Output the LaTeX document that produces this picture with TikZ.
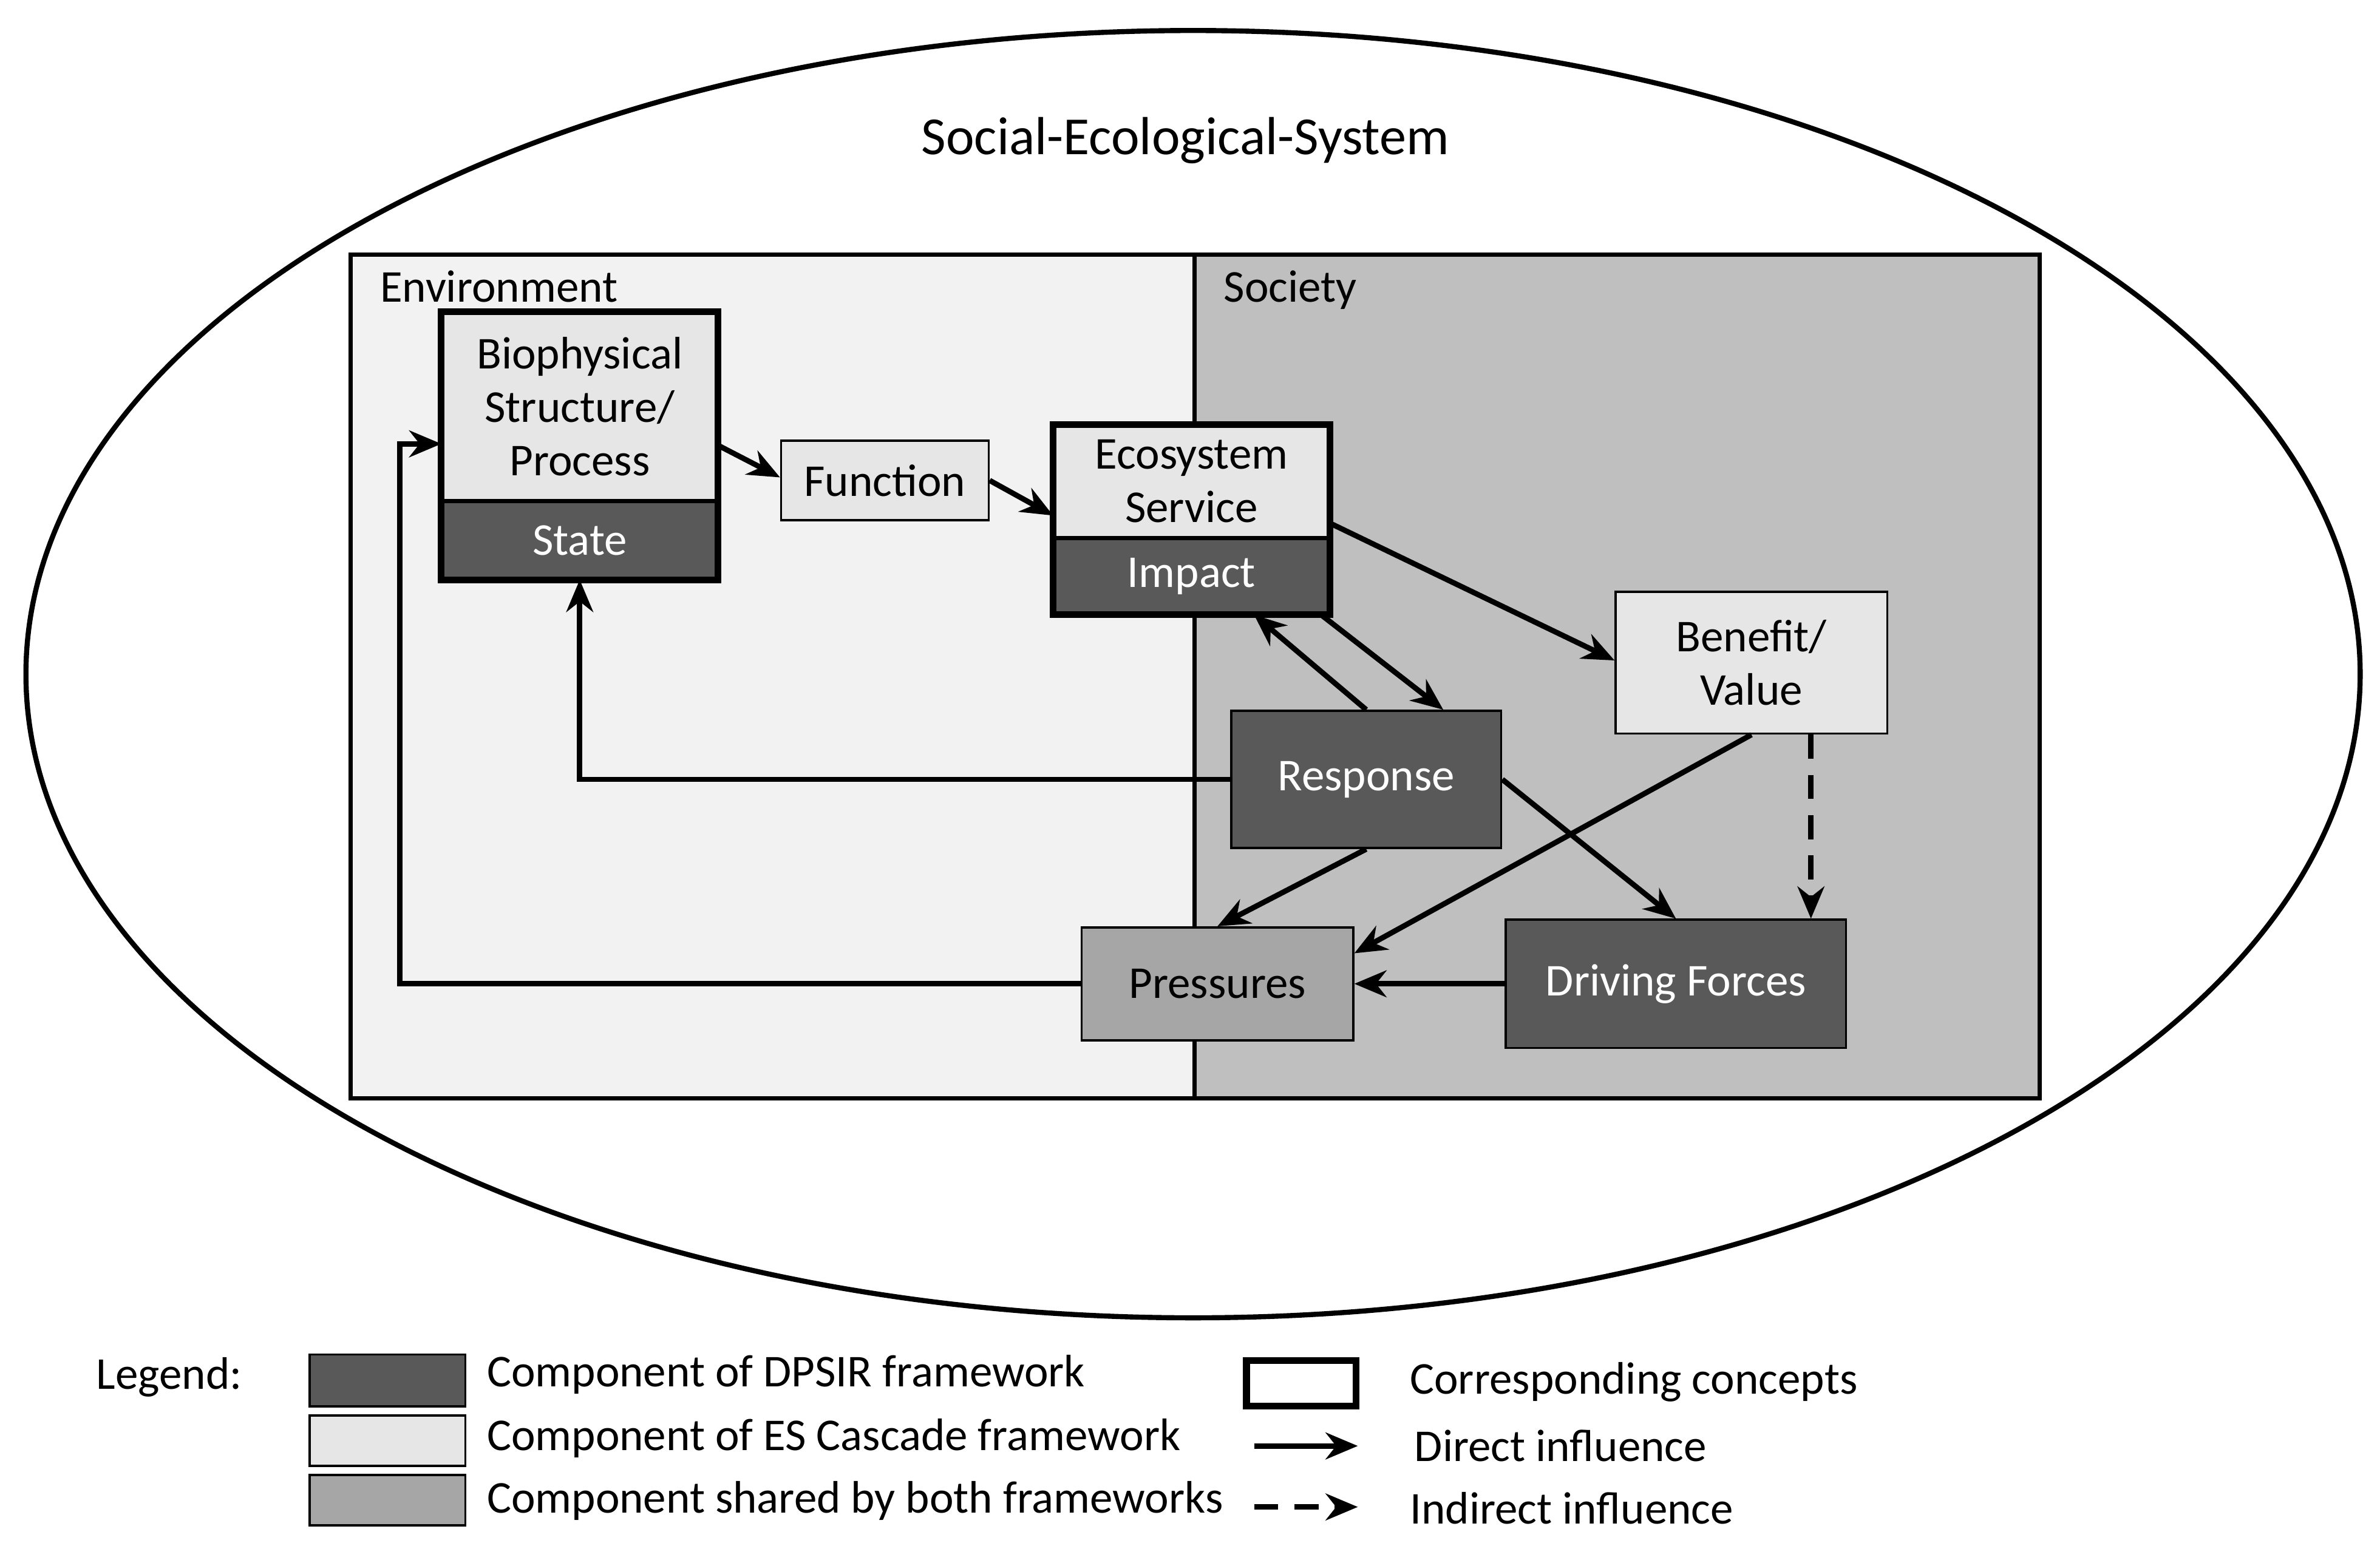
\documentclass[tikz,border=0pt]{standalone}
\usepackage{fontspec}
\setmainfont{Carlito}
\usetikzlibrary{positioning}
\usetikzlibrary{arrows.meta}
\definecolor{dpsir}{HTML}{595959}
\definecolor{cascade}{HTML}{E6E6E6}
\definecolor{shared}{HTML}{A6A6A6}
\definecolor{envfill}{HTML}{F2F2F2}
\definecolor{socfill}{HTML}{BFBFBF}
\begin{document}
\begin{tikzpicture}[x=0.02cm, y=-0.02cm, font=\fontsize{17}{20}\selectfont]
\tikzstyle{box} = [draw, line width=0.8pt, inner sep=0pt, align=center]
\tikzstyle{darkBox} = [box, fill=dpsir, text=white]
\tikzstyle{lightBox} = [box, fill=cascade]
\tikzstyle{midBox} = [box, fill=shared]
\tikzstyle{arr} = [line width=2pt, -{Stealth[length=12pt, width=10pt]}]
\tikzstyle{dashArr} = [arr, dash pattern=on 9pt off 6pt]
\tikzstyle{frameBox} = [line width=2.5pt]
\useasboundingbox (0,0) rectangle (1560,1013.6);
% system and its two parts
\draw[line width=1.9pt] (782,442) ellipse [x radius=765, y radius=422];
\node (ses) at (777,92) {\fontsize{20}{24}\selectfont Social-Ecological-System};
\fill[envfill] (230,167) rectangle (783,720);
\fill[socfill] (783,167) rectangle (1337,720);
\draw[line width=1.6pt] (230,167) rectangle (1337,720);
\draw[line width=1.6pt] (783,167) -- (783,720);
\node[anchor=west] (env) at (243,188) {Environment};
\node[anchor=west] (soc) at (796,190) {Society};
% components
\node[lightBox, minimum width=180*0.02cm, minimum height=123*0.02cm] (bio) at (380,266.5) {Biophysical\\Structure/\\Process};
\node[darkBox, minimum width=180*0.02cm, minimum height=50*0.02cm, below=0pt of bio] (state) {State};
\draw[frameBox] (bio.north west) rectangle (state.south east);
\node[lightBox, minimum width=136*0.02cm, minimum height=52*0.02cm] (func) at (580,315) {Function};
\node[lightBox, minimum width=180*0.02cm, minimum height=73*0.02cm] (es) at (781,315.5) {Ecosystem\\Service};
\node[darkBox, minimum width=180*0.02cm, minimum height=49*0.02cm, below=0pt of es] (impact) {Impact};
\draw[frameBox] (es.north west) rectangle (impact.south east);
\node[lightBox, minimum width=178*0.02cm, minimum height=93*0.02cm] (ben) at (1148,434.5) {Benefit/\\Value};
\node[darkBox, minimum width=177*0.02cm, minimum height=90*0.02cm] (resp) at (895.5,511) {Response};
\node[midBox, minimum width=178*0.02cm, minimum height=74*0.02cm] (press) at (798,645) {Pressures};
\node[darkBox, minimum width=223*0.02cm, minimum height=84*0.02cm] (drive) at (1098.5,645) {Driving Forces};
% influences
\draw[arr] (bio.east |- 0,292) -- (func.west |- 0,313);
\draw[arr] (func.east) -- (es.west |- 0,338);
\draw[arr] (es.east |- 0,343) -- (ben.west |- 0,433);
\draw[arr] (impact.south -| 866,0) -- (resp.north -| 946,0);
\draw[arr] (resp.north) -- (impact.south -| 822,0);
\draw[arr] (resp.west) -| (state.south);
\draw[arr] (resp.south) -- (press.north);
\draw[arr] (resp.east) -- (drive.north);
\draw[arr] (ben.south) -- (press.east |- 0,625);
\draw[dashArr] (ben.south -| 1187,0) -- (drive.north -| 1187,0);
\draw[arr] (drive.west) -- (press.east);
\draw[arr] (press.west) -| (262,291) -- (bio.west |- 0,291);
% legend
\node[anchor=west] (leg) at (57,903) {Legend:};
\node[darkBox, minimum width=102*0.02cm, minimum height=34*0.02cm] (legD) at (254,905) {};
\node[lightBox, minimum width=102*0.02cm, minimum height=33*0.02cm] (legC) at (254,944.5) {};
\node[midBox, minimum width=102*0.02cm, minimum height=33*0.02cm] (legS) at (254,983.5) {};
\node[anchor=west] (legDt) at (313,901) {Component of DPSIR framework};
\node[anchor=west] (legCt) at (313,943) {Component of ES Cascade framework};
\node[anchor=west] (legSt) at (313,984) {Component shared by both frameworks};
\node[draw, frameBox, minimum width=72*0.02cm, minimum height=30*0.02cm] (legF) at (853,907) {};
\coordinate (a1) at (822,948);
\coordinate (a2) at (890,948);
\coordinate (b1) at (822,988);
\coordinate (b2) at (890,988);
\draw[arr] (a1) -- (a2);
\draw[dashArr] (b1) -- (b2);
\node[anchor=west] (legFt) at (918,906) {Corresponding concepts};
\node[anchor=west] (legAt) at (921,948) {Direct influence};
\node[anchor=west] (legBt) at (918,989) {Indirect influence};
\end{tikzpicture}
\end{document}
